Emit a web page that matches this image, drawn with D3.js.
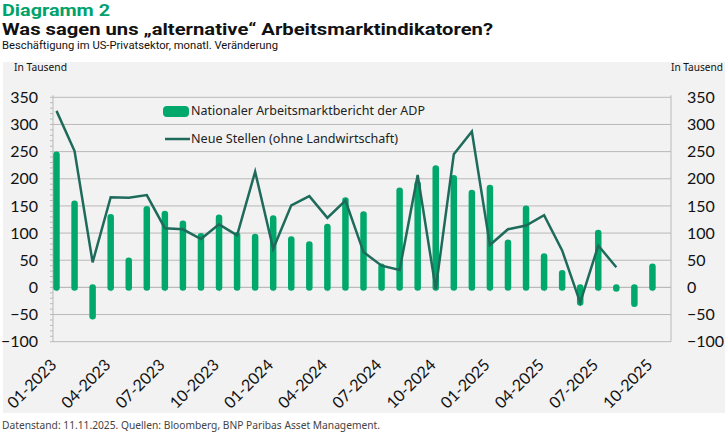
<!DOCTYPE html>
<html>
<head>
<meta charset="utf-8">
<script src="https://cdn.jsdelivr.net/npm/d3@7"></script>
<style>
  body { margin: 0; background: #fff; }
  svg { display: block; }
</style>
</head>
<body>
<script>
// months on the category axis (last one is empty)
const months = [
  "01-2023","02-2023","03-2023","04-2023","05-2023","06-2023","07-2023","08-2023","09-2023","10-2023","11-2023","12-2023",
  "01-2024","02-2024","03-2024","04-2024","05-2024","06-2024","07-2024","08-2024","09-2024","10-2024","11-2024","12-2024",
  "01-2025","02-2025","03-2025","04-2025","05-2025","06-2025","07-2025","08-2025","09-2025","10-2025","11-2025"
];
const tickMonths = ["01-2023","04-2023","07-2023","10-2023","01-2024","04-2024","07-2024","10-2024","01-2025","04-2025","07-2025","10-2025"];

// ADP report, in thousands (bars)
const adpValues = [
  244, 154, -53, 129, 49, 144, 135, 117, 94, 128, 96, 93,
  127, 88, 79, 111, 160, 134, 38, 178, 190, 219, 201, 174,
  183, 82, 145, 57, 26, -28, 100, -2, -30, 38, null
];
// nonfarm payrolls, private, in thousands (line)
const payrollValues = [
  325, 251, 46, 166, 165, 170, 109, 107, 89, 116, 96, 213,
  71, 151, 168, 128, 160, 65, 40, 32, 207, -3, 245, 287,
  78, 107, 114, 133, 68, -28, 77, 37, null, null, null
];
const yTicks = [-100, -50, 0, 50, 100, 150, 200, 250, 300, 350];
const legendLabels = ["Nationaler Arbeitsmarktbericht der ADP", "Neue Stellen (ohne Landwirtschaft)"];

const green = "#00a86b", lineColor = "#1e6b5b", gridColor = "#b9b9b9";
const font = "'Noto Sans', 'Open Sans', sans-serif";
const headFont = "Roboto, 'Noto Sans', sans-serif";
const numFont = "Lato, 'Open Sans', sans-serif";

const width = 725, height = 433;
const plot = {left: 53, right: 671};

const svg = d3.select("body").append("svg")
    .attr("width", width)
    .attr("height", height);

// headings
svg.append("text")
    .attr("x", 2).attr("y", 16)
    .attr("font-family", headFont).attr("font-weight", 700).attr("font-size", 16)
    .attr("fill", "#00a36b")
    .attr("textLength", 108).attr("lengthAdjust", "spacingAndGlyphs")
    .text("Diagramm 2");
svg.append("text")
    .attr("x", 2).attr("y", 35)
    .attr("font-family", headFont).attr("font-weight", 700).attr("font-size", 16.5)
    .attr("fill", "#111")
    .attr("textLength", 491).attr("lengthAdjust", "spacingAndGlyphs")
    .text("Was sagen uns \u201Ealternative\u201C Arbeitsmarktindikatoren?");
svg.append("text")
    .attr("x", 2).attr("y", 49.3)
    .attr("font-family", headFont).attr("font-size", 10.5)
    .attr("fill", "#111")
    .attr("textLength", 276).attr("lengthAdjust", "spacingAndGlyphs")
    .text("Beschäftigung im US-Privatsektor, monatl. Veränderung");

// grey chart panel
svg.append("rect")
    .attr("x", 3).attr("y", 62)
    .attr("width", width - 3).attr("height", 351)
    .attr("fill", "#f2f2f2");

svg.append("text")
    .attr("x", 14).attr("y", 70.5)
    .attr("font-family", font).attr("font-size", 10)
    .attr("fill", "#111")
    .attr("textLength", 53).attr("lengthAdjust", "spacingAndGlyphs")
    .text("In Tausend");
svg.append("text")
    .attr("x", 723).attr("y", 70.5)
    .attr("text-anchor", "end")
    .attr("font-family", font).attr("font-size", 10)
    .attr("fill", "#111")
    .attr("textLength", 52).attr("lengthAdjust", "spacingAndGlyphs")
    .text("In Tausend");

// footer
svg.append("text")
    .attr("x", 2).attr("y", 429)
    .attr("font-family", font).attr("font-size", 10.5)
    .attr("fill", "#444")
    .attr("textLength", 378).attr("lengthAdjust", "spacingAndGlyphs")
    .text("Datenstand: 11.11.2025. Quellen: Bloomberg, BNP Paribas Asset Management.");

// scales
const x = d3.scalePoint()
    .domain(months)
    .range([56.5, 670.5]);

const y = d3.scaleLinear()
    .domain([-100, 350])
    .range([341.7, 97.3]);

// gridlines
svg.append("g")
    .selectAll("line")
    .data(yTicks)
    .join("line")
    .attr("x1", plot.left).attr("x2", plot.right)
    .attr("y1", d => y(d)).attr("y2", d => y(d))
    .attr("stroke", gridColor)
    .attr("stroke-width", 1);

// minor ticks on the left axis
svg.append("g")
    .selectAll("line")
    .data(d3.range(-100, 351, 10))
    .join("line")
    .attr("x1", plot.left - 3).attr("x2", plot.left)
    .attr("y1", d => y(d)).attr("y2", d => y(d))
    .attr("stroke", gridColor);

// vertical axis lines
[plot.left, plot.right].forEach(px => {
  svg.append("line")
      .attr("x1", px).attr("x2", px)
      .attr("y1", y(350) - 2).attr("y2", y(-100))
      .attr("stroke", gridColor);
});

// y labels both sides
const leftAxis = svg.append("g")
    .attr("transform", `translate(${plot.left},0)`)
    .call(d3.axisLeft(y).tickValues(yTicks).tickSize(0).tickPadding(15));
const rightAxis = svg.append("g")
    .attr("transform", `translate(${plot.right},0)`)
    .call(d3.axisRight(y).tickValues(yTicks).tickSize(0).tickPadding(16));
[leftAxis, rightAxis].forEach(g => {
  g.select(".domain").remove();
  g.selectAll("text")
      .attr("font-family", numFont)
      .attr("font-size", 16)
      .attr("fill", "#111");
});

// x axis on zero line
const xAxis = svg.append("g")
    .attr("transform", `translate(0,${y(0)})`)
    .call(d3.axisBottom(x).tickValues(tickMonths).tickSize(4).tickFormat(""));
xAxis.select(".domain").remove();
xAxis.selectAll("line").attr("stroke", gridColor);
svg.append("line")
    .attr("x1", plot.left).attr("x2", plot.right)
    .attr("y1", y(0)).attr("y2", y(0))
    .attr("stroke", gridColor);

svg.append("g")
    .selectAll("text")
    .data(tickMonths)
    .join("text")
    .attr("transform", d => `translate(${x(d) + 1},366) rotate(-45)`)
    .attr("text-anchor", "end")
    .attr("font-family", numFont)
    .attr("font-size", 16)
    .attr("fill", "#111")
    .text(d => d);

// bars (rounded ends)
const barData = months.map((m, i) => ({m, v: adpValues[i]})).filter(d => d.v != null);
svg.append("g")
    .selectAll("line")
    .data(barData)
    .join("line")
    .attr("x1", d => x(d.m)).attr("x2", d => x(d.m))
    .attr("y1", y(0)).attr("y2", d => y(d.v))
    .attr("stroke", green)
    .attr("stroke-width", 6.5)
    .attr("stroke-linecap", "round");

// payroll line
const lineGen = d3.line()
    .defined(d => d.v != null)
    .x(d => x(d.m))
    .y(d => y(d.v));
svg.append("path")
    .datum(months.map((m, i) => ({m, v: payrollValues[i]})))
    .attr("d", lineGen)
    .attr("fill", "none")
    .attr("stroke", lineColor)
    .attr("stroke-width", 2.5);

// legend
const legend = svg.append("g");
legend.append("rect")
    .attr("x", 163).attr("y", 106)
    .attr("width", 26).attr("height", 11)
    .attr("rx", 4)
    .attr("fill", green);
legend.append("line")
    .attr("x1", 165).attr("x2", 190)
    .attr("y1", 139).attr("y2", 139)
    .attr("stroke", lineColor)
    .attr("stroke-width", 2.5);
legend.selectAll("text")
    .data(legendLabels)
    .join("text")
    .attr("x", 191)
    .attr("y", (d, i) => [114.5, 142.5][i])
    .attr("font-family", font)
    .attr("font-size", 13)
    .attr("fill", "#222")
    .attr("textLength", (d, i) => [234, 207][i])
    .attr("lengthAdjust", "spacingAndGlyphs")
    .text(d => d);
</script>
</body>
</html>
